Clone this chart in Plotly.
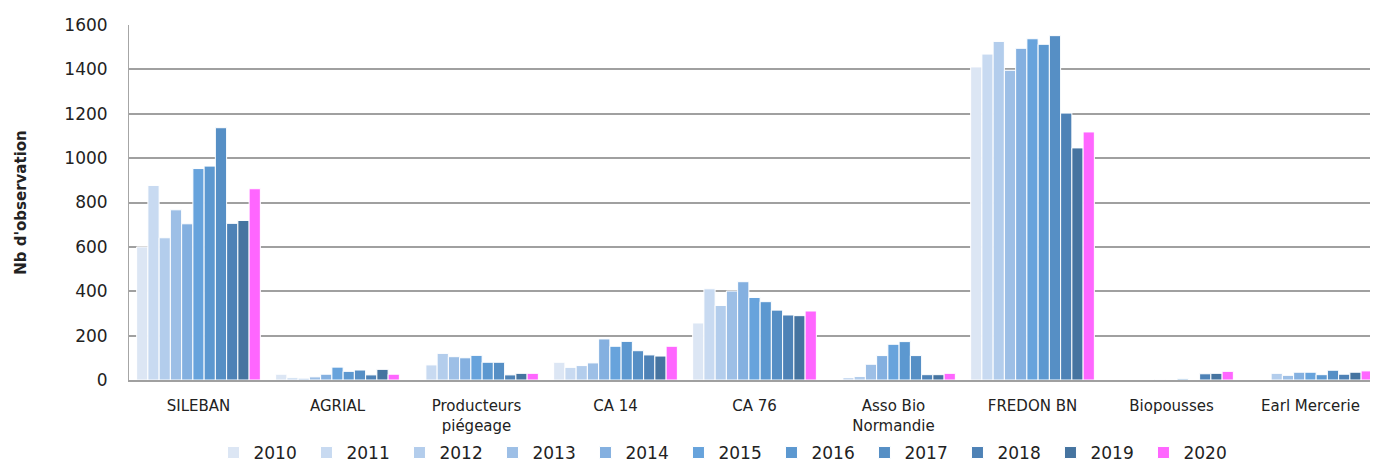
import plotly.graph_objects as go

CATEGORIES = ["SILEBAN", "AGRIAL", "Producteurs<br>piégeage", "CA 14", "CA 76",
              "Asso Bio<br>Normandie", "FREDON BN", "Biopousses", "Earl Mercerie"]
YEARS = ["2010", "2011", "2012", "2013", "2014", "2015", "2016", "2017", "2018", "2019", "2020"]

# one list per year, values in category order
V2010 = [600, 26, 0, 80, 257, 0, 1411, 0, 0]
V2011 = [877, 10, 68, 57, 411, 11, 1469, 0, 0]
V2012 = [641, 8, 120, 65, 336, 16, 1526, 0, 30]
V2013 = [767, 14, 105, 77, 401, 71, 1396, 0, 21]
V2014 = [704, 26, 100, 185, 443, 110, 1495, 2, 35]
V2015 = [953, 58, 111, 152, 372, 161, 1538, 0, 35]
V2016 = [964, 39, 80, 174, 353, 173, 1513, 5, 24]
V2017 = [1137, 45, 80, 132, 315, 110, 1552, 0, 44]
V2018 = [706, 23, 23, 113, 293, 24, 1203, 28, 26]
V2019 = [719, 48, 30, 108, 290, 24, 1046, 30, 35]
V2020 = [862, 26, 30, 152, 311, 30, 1118, 39, 41]

SERIES = [V2010, V2011, V2012, V2013, V2014, V2015, V2016, V2017, V2018, V2019, V2020]
COLORS = ["#dce6f4", "#c8daf1", "#b3cdec", "#9dbfe6", "#84b0e0", "#67a3dc",
          "#5c98d0", "#568fc5", "#4e82b6", "#4674a0", "#ff66ff"]

fig = go.Figure()
for yr, vals, col in zip(YEARS, SERIES, COLORS):
    fig.add_trace(go.Bar(
        name=yr, x=CATEGORIES, y=vals,
        marker=dict(color=col, line=dict(color="white", width=1)),
    ))

# page body has an 8px margin, so the figure is offset by 8px in the window
fig.update_layout(
    barmode="group",
    bargap=0.11,
    bargroupgap=0,
    width=1378,
    height=464,
    paper_bgcolor="white",
    plot_bgcolor="white",
    margin=dict(l=121, r=6, t=17, b=92),
    font=dict(family="DejaVu Sans", size=15, color="#222222"),
    legend=dict(
        orientation="h", x=0.4764, xanchor="center",
        yref="container", y=0.041, yanchor="middle",
        font=dict(size=17, color="#222222"),
        entrywidth=48, entrywidthmode="pixels",
        traceorder="normal",
    ),
)
fig.update_xaxes(
    showgrid=False, showline=True, linecolor="#a0a0a0", linewidth=2,
    tickfont=dict(size=15), ticks="", ticklabelstandoff=11, automargin=False,
)
fig.update_yaxes(
    range=[0, 1600], dtick=200, showgrid=True, gridcolor="#a0a0a0", gridwidth=2,
    showline=True, linecolor="#a6a6a6", linewidth=1, zeroline=False,
    tickfont=dict(size=17), ticks="", ticklabelstandoff=17, automargin=False,
    title=dict(text="<b>Nb d'observation</b>", font=dict(size=15), standoff=34),
)

fig.write_html("out.html")
